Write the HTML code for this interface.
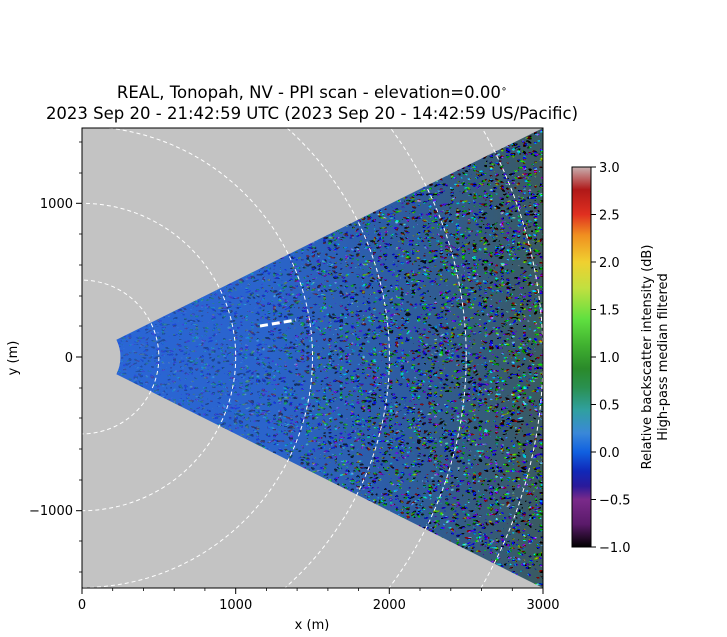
<!DOCTYPE html>
<html><head><meta charset="utf-8"><style>
html,body{margin:0;padding:0;background:#fff;overflow:hidden;width:727px;height:637px;}
svg{display:block;}
svg text{font-family:"DejaVu Sans","Liberation Sans",sans-serif;fill:#000;}
</style></head><body>
<svg width="727" height="637" viewBox="0 0 727 637" xmlns="http://www.w3.org/2000/svg">
<defs>
<clipPath id="plot"><rect x="82" y="128" width="461" height="460"/></clipPath>
<clipPath id="wedge"><path d="M116.4,339.8 L543,128 L543,588 L116.4,374.2 A38.4,38.4 0 0 0 116.4,339.8 Z"/></clipPath>
<linearGradient id="base" x1="82" y1="0" x2="543" y2="0" gradientUnits="userSpaceOnUse">
<stop offset="0" stop-color="#2a66d8"/><stop offset="0.4" stop-color="#2a64cc"/>
<stop offset="0.7" stop-color="#2d5ca0"/><stop offset="1" stop-color="#3a5a60"/>
</linearGradient>
<linearGradient id="fade" x1="82" y1="0" x2="543" y2="0" gradientUnits="userSpaceOnUse">
<stop offset="0" stop-color="#fff" stop-opacity="0.15"/><stop offset="0.35" stop-color="#fff" stop-opacity="0.35"/>
<stop offset="0.65" stop-color="#fff" stop-opacity="0.8"/><stop offset="1" stop-color="#fff" stop-opacity="1"/>
</linearGradient>
<mask id="m"><rect x="82" y="128" width="461" height="460" fill="url(#fade)"/></mask>
<filter id="noise" x="0" y="0" width="100%" height="100%">
<feTurbulence type="turbulence" baseFrequency="0.18 0.3" numOctaves="1" seed="4"/>
<feComponentTransfer>
<feFuncR type="discrete" tableValues="0 0.1 0.3 0.95 1"/>
<feFuncG type="discrete" tableValues="0 0.3 0.75 0.85 0.9"/>
<feFuncB type="discrete" tableValues="0 0.9 0.3 0.1 0"/>
<feFuncA type="discrete" tableValues="0 1 1 1"/>
</feComponentTransfer>
</filter>
<linearGradient id="cb" x1="0" y1="1" x2="0" y2="0">
<stop offset="0" stop-color="#000000"/><stop offset="0.06" stop-color="#5a1a6a"/>
<stop offset="0.125" stop-color="#7a2a8a"/><stop offset="0.16" stop-color="#2a1a9a"/>
<stop offset="0.2" stop-color="#1028b8"/><stop offset="0.25" stop-color="#1060e0"/>
<stop offset="0.3" stop-color="#3a88d8"/><stop offset="0.36" stop-color="#30a0a0"/>
<stop offset="0.42" stop-color="#2a9050"/><stop offset="0.47" stop-color="#2a8a2a"/>
<stop offset="0.53" stop-color="#40b030"/><stop offset="0.6" stop-color="#60e040"/>
<stop offset="0.68" stop-color="#c0e040"/><stop offset="0.75" stop-color="#f0d030"/>
<stop offset="0.82" stop-color="#f09020"/><stop offset="0.875" stop-color="#e03020"/>
<stop offset="0.94" stop-color="#b01818"/><stop offset="1" stop-color="#c8b0b0"/>
</linearGradient>
</defs>
<text x="312" y="98" font-size="16.5" text-anchor="middle">REAL, Tonopah, NV - PPI scan - elevation=0.00<tspan font-size="10" dy="-6">∘</tspan></text>
<text x="312" y="119" font-size="16.5" text-anchor="middle">2023 Sep 20 - 21:42:59 UTC (2023 Sep 20 - 14:42:59 US/Pacific)</text>
<rect x="82" y="128" width="461" height="460" fill="#c3c3c3"/>
<g clip-path="url(#wedge)">
<rect x="82" y="128" width="461" height="460" fill="url(#base)"/>
<rect x="82" y="128" width="461" height="460" filter="url(#noise)" mask="url(#m)"/>
</g>
<g clip-path="url(#plot)" fill="none" stroke="#fff" stroke-width="1" stroke-dasharray="4,3">
<circle cx="82" cy="357" r="76.85"/><circle cx="82" cy="357" r="153.7"/>
<circle cx="82" cy="357" r="230.5"/><circle cx="82" cy="357" r="307.4"/>
<circle cx="82" cy="357" r="384.2"/><circle cx="82" cy="357" r="461"/>
</g>
<line x1="260" y1="326" x2="296" y2="320" stroke="#fff" stroke-width="3" stroke-dasharray="8,4"/>
<rect x="82" y="128" width="461" height="460" fill="none" stroke="#000" stroke-width="1"/>
<g stroke="#000" stroke-width="1">
<line x1="82" y1="588" x2="82" y2="594"/><line x1="235.7" y1="588" x2="235.7" y2="594"/>
<line x1="389.3" y1="588" x2="389.3" y2="594"/><line x1="543" y1="588" x2="543" y2="594"/>
<line x1="76" y1="510.7" x2="82" y2="510.7"/><line x1="76" y1="357" x2="82" y2="357"/><line x1="76" y1="203.3" x2="82" y2="203.3"/>
</g>
<g stroke="#000" stroke-width="0.8">
<line x1="112.7" y1="588" x2="112.7" y2="591"/><line x1="143.5" y1="588" x2="143.5" y2="591"/><line x1="174.2" y1="588" x2="174.2" y2="591"/><line x1="204.9" y1="588" x2="204.9" y2="591"/>
<line x1="266.4" y1="588" x2="266.4" y2="591"/><line x1="297.1" y1="588" x2="297.1" y2="591"/><line x1="327.9" y1="588" x2="327.9" y2="591"/><line x1="358.6" y1="588" x2="358.6" y2="591"/>
<line x1="420" y1="588" x2="420" y2="591"/><line x1="450.8" y1="588" x2="450.8" y2="591"/><line x1="481.5" y1="588" x2="481.5" y2="591"/><line x1="512.3" y1="588" x2="512.3" y2="591"/>
<line x1="79" y1="572" x2="82" y2="572"/><line x1="79" y1="541" x2="82" y2="541"/><line x1="79" y1="480" x2="82" y2="480"/><line x1="79" y1="449" x2="82" y2="449"/><line x1="79" y1="418" x2="82" y2="418"/><line x1="79" y1="388" x2="82" y2="388"/>
<line x1="79" y1="326" x2="82" y2="326"/><line x1="79" y1="296" x2="82" y2="296"/><line x1="79" y1="265" x2="82" y2="265"/><line x1="79" y1="234" x2="82" y2="234"/><line x1="79" y1="173" x2="82" y2="173"/><line x1="79" y1="142" x2="82" y2="142"/>
</g>
<g font-size="13" text-anchor="middle">
<text x="82" y="609">0</text><text x="235.7" y="609">1000</text><text x="389.3" y="609">2000</text><text x="543" y="609">3000</text>
<text x="312" y="629">x (m)</text>
</g>
<g font-size="13" text-anchor="end">
<text x="73" y="515">−1000</text><text x="73" y="362">0</text><text x="73" y="208">1000</text>
</g>
<text transform="translate(17,358) rotate(-90)" font-size="13" text-anchor="middle">y (m)</text>
<rect x="572" y="167" width="19" height="380" fill="url(#cb)" stroke="#000" stroke-width="1"/>
<g stroke="#000" stroke-width="1">
<line x1="591" y1="167" x2="596" y2="167"/><line x1="591" y1="214.5" x2="596" y2="214.5"/><line x1="591" y1="262" x2="596" y2="262"/><line x1="591" y1="309.5" x2="596" y2="309.5"/><line x1="591" y1="357" x2="596" y2="357"/><line x1="591" y1="404.5" x2="596" y2="404.5"/><line x1="591" y1="452" x2="596" y2="452"/><line x1="591" y1="499.5" x2="596" y2="499.5"/><line x1="591" y1="547" x2="596" y2="547"/>
</g>
<g font-size="13">
<text x="599" y="172">3.0</text><text x="599" y="219.5">2.5</text><text x="599" y="267">2.0</text><text x="599" y="314.5">1.5</text><text x="599" y="362">1.0</text><text x="599" y="409.5">0.5</text><text x="599" y="457">0.0</text><text x="599" y="504.5">−0.5</text><text x="599" y="552">−1.0</text>
</g>
<text transform="translate(651,357) rotate(-90)" font-size="13" text-anchor="middle">Relative backscatter intensity (dB)</text>
<text transform="translate(667,357) rotate(-90)" font-size="13" text-anchor="middle">High-pass median filtered</text>
</svg>
</body></html>
